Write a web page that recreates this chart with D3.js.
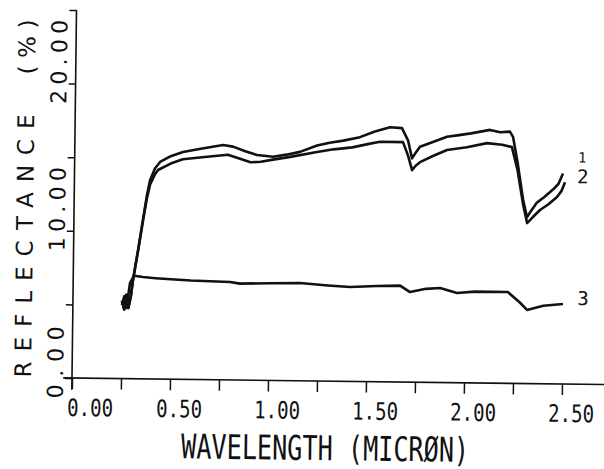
<!DOCTYPE html>
<html>
<head>
<meta charset="utf-8">
<script src="https://d3js.org/d3.v7.min.js"></script>
<style>
  body { margin: 0; background: #fff; }
  svg { display: block; }
</style>
</head>
<body>
<div id="chart"></div>
<script>

// tick values / labels
var xTicks = [0, 0.25, 0.5, 0.75, 1.0, 1.25, 1.5, 1.75, 2.0, 2.25, 2.5];
var xLabelTicks = [0, 0.5, 1.0, 1.5, 2.0, 2.5];
var yTicks = [0, 5, 10, 15, 20, 25];
var yLabelTicks = [0, 10, 20];

// spectra (wavelength micron, reflectance %)
var curve1 = [[0.250,5.3],[0.262,4.7],[0.272,5.7],[0.283,4.8],[0.295,5.6],[0.305,6.7],[0.33,8.8],[0.352,10.8],[0.37,12.4],[0.386,13.5],[0.41,14.3],[0.436,14.75],[0.49,15.15],[0.552,15.45],[0.65,15.7],[0.756,15.95],[0.807,15.85],[0.87,15.55],[0.93,15.3],[1.012,15.2],[1.08,15.35],[1.149,15.55],[1.236,16.0],[1.30,16.2],[1.37,16.35],[1.454,16.6],[1.53,17.0],[1.607,17.3],[1.668,17.25],[1.70,16.4],[1.721,15.2],[1.74,15.6],[1.761,16.0],[1.83,16.35],[1.898,16.7],[1.95,16.8],[2.02,16.95],[2.117,17.2],[2.17,17.05],[2.219,17.1],[2.235,16.75],[2.26,15.0],[2.29,12.5],[2.311,11.3],[2.335,11.8],[2.361,12.3],[2.40,12.7],[2.442,13.2],[2.47,13.6],[2.492,14.3]];
var curve2 = [[0.250,5.3],[0.262,4.7],[0.272,5.7],[0.283,4.8],[0.295,5.6],[0.305,6.7],[0.33,8.8],[0.352,10.7],[0.37,12.2],[0.386,13.2],[0.41,13.9],[0.426,14.2],[0.49,14.65],[0.552,14.95],[0.65,15.1],[0.781,15.3],[0.84,15.05],[0.897,14.8],[0.95,14.85],[1.012,15.0],[1.10,15.2],[1.236,15.55],[1.32,15.75],[1.416,15.9],[1.50,16.15],[1.557,16.3],[1.674,16.3],[1.70,15.4],[1.722,14.4],[1.74,14.7],[1.762,14.95],[1.83,15.4],[1.899,15.8],[2.0,16.0],[2.103,16.3],[2.18,16.2],[2.23,16.05],[2.26,14.5],[2.29,12.2],[2.312,10.9],[2.34,11.3],[2.377,11.8],[2.42,12.2],[2.463,12.7],[2.485,13.1],[2.503,13.7]];
var curve3 = [[0.250,5.0],[0.262,5.6],[0.274,4.8],[0.29,6.5],[0.31,7.0],[0.356,6.92],[0.42,6.85],[0.479,6.8],[0.6,6.72],[0.8,6.65],[0.851,6.55],[1.0,6.6],[1.157,6.64],[1.3,6.5],[1.413,6.41],[1.55,6.5],[1.668,6.55],[1.719,6.12],[1.80,6.35],[1.872,6.42],[1.959,6.09],[2.05,6.2],[2.218,6.2],[2.28,5.5],[2.317,5.0],[2.4,5.3],[2.5,5.43]];

// curve number labels: [text, wavelength, reflectance, size]
var curveLabels = [["1", 2.589, 15.05, 14], ["2", 2.594, 13.65, 19], ["3", 2.602, 5.37, 19]];

var width = 604, height = 469;

var x = d3.scaleLinear().domain([0, 2.5]).range([72, 562]);
var y = d3.scaleLinear().domain([0, 25]).range([378, 10]);

var svg = d3.select("#chart").append("svg")
    .attr("width", width)
    .attr("height", height)
    .style("background", "#fff");

// the original is a slightly tilted scan
var g = svg.append("g")
    .attr("transform", "rotate(0.7," + x(0) + "," + y(0) + ")");

var ink = "#111";

// axis lines (cross at the origin)
g.append("line")
    .attr("x1", x(-0.045)).attr("x2", x(2.75))
    .attr("y1", y(0)).attr("y2", y(0))
    .attr("stroke", ink).attr("stroke-width", 1.6);
g.append("line")
    .attr("x1", x(0)).attr("x2", x(0))
    .attr("y1", y(25)).attr("y2", y(-0.8))
    .attr("stroke", ink).attr("stroke-width", 1.6);

var xAxis = g.append("g")
    .attr("transform", "translate(0," + y(0) + ")")
    .call(d3.axisBottom(x).tickValues(xTicks).tickSizeInner(11).tickSizeOuter(0)
        .tickFormat(function(d) { return xLabelTicks.indexOf(d) >= 0 ? d3.format(".2f")(d) : ""; }));
xAxis.select(".domain").remove();
xAxis.selectAll("line").attr("stroke", ink).attr("stroke-width", 1.5);
xAxis.selectAll("text")
    .attr("y", 38).attr("dy", null)
    .attr("x", function(d) { return d === 0 ? 18 : 9; })
    .attr("fill", ink)
    .style("font-family", "'DejaVu Sans Mono', monospace")
    .style("font-size", "24px")
    .attr("textLength", 46)
    .attr("lengthAdjust", "spacingAndGlyphs");

var yAxis = g.append("g")
    .attr("transform", "translate(" + x(0) + ",0)")
    .call(d3.axisLeft(y).tickValues(yTicks).tickSizeInner(7).tickSizeOuter(0)
        .tickFormat(function(d) { return yLabelTicks.indexOf(d) >= 0 ? d3.format(".2f")(d) : ""; }));
yAxis.select(".domain").remove();
yAxis.selectAll("line").attr("stroke", ink).attr("stroke-width", 1.5);
yAxis.selectAll("text")
    .attr("x", null).attr("dy", null)
    .attr("text-anchor", "start")
    .attr("transform", "translate(-9,20) rotate(-90)")
    .attr("fill", ink)
    .style("font-family", "'DejaVu Sans', sans-serif")
    .style("font-size", "22px")
    .attr("textLength", function(d) { return d === 0 ? 72 : 84; })
    .attr("lengthAdjust", "spacing");

// axis titles
g.append("text")
    .attr("transform", "translate(" + (x(0) + 254) + "," + (y(0) + 79) + ")")
    .attr("text-anchor", "middle")
    .attr("fill", ink)
    .style("font-family", "'DejaVu Sans Mono', monospace")
    .style("font-size", "34px")
    .attr("textLength", 288)
    .attr("lengthAdjust", "spacingAndGlyphs")
    .text("WAVELENGTH (MICRØN)");

g.append("text")
    .attr("transform", "translate(31," + y(0) + ") rotate(-90)")
    .attr("fill", ink)
    .style("font-family", "'DejaVu Sans', sans-serif")
    .style("font-size", "23px")
    .attr("textLength", 263)
    .attr("lengthAdjust", "spacing")
    .text("REFLECTANCE");
g.append("text")
    .attr("transform", "translate(31," + (y(0) - 303) + ") rotate(-90)")
    .attr("fill", ink)
    .style("font-family", "'DejaVu Sans', sans-serif")
    .style("font-size", "23px")
    .attr("textLength", 55)
    .attr("lengthAdjust", "spacing")
    .text("(%)");

// spectra
var line = d3.line()
    .x(function(d) { return x(d[0]); })
    .y(function(d) { return y(d[1]); });

g.selectAll(".spectrum")
    .data([curve1, curve2, curve3])
    .enter().append("path")
    .attr("class", "spectrum")
    .attr("d", line)
    .attr("fill", "none")
    .attr("stroke", ink)
    .attr("stroke-width", 2.6)
    .attr("stroke-linejoin", "round");

g.selectAll(".clabel")
    .data(curveLabels)
    .enter().append("text")
    .attr("class", "clabel")
    .attr("x", function(d) { return x(d[1]); })
    .attr("y", function(d) { return y(d[2]); })
    .attr("text-anchor", "middle")
    .attr("fill", ink)
    .style("font-family", "'DejaVu Sans Mono', monospace")
    .style("font-size", function(d) { return d[3] + "px"; })
    .text(function(d) { return d[0]; });

</script>
</body>
</html>
